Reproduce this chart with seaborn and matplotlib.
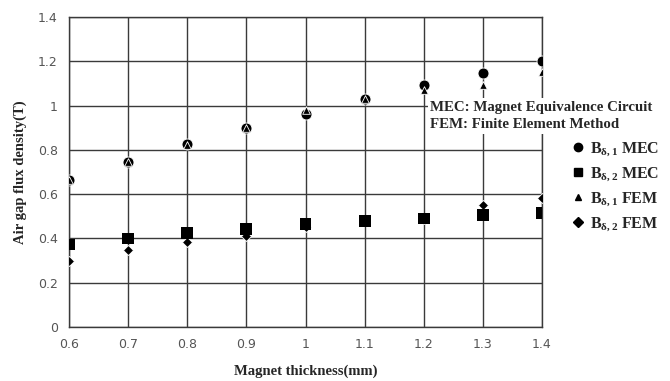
import pandas as pd
import seaborn as sns
import matplotlib.pyplot as plt
from matplotlib.lines import Line2D

# data
thickness = [0.6, 0.7, 0.8, 0.9, 1.0, 1.1, 1.2, 1.3, 1.4]
b1_mec = [0.664, 0.746, 0.826, 0.900, 0.962, 1.030, 1.093, 1.148, 1.200]
b2_mec = [0.373, 0.400, 0.423, 0.443, 0.464, 0.480, 0.490, 0.506, 0.516]
b1_fem = [0.664, 0.744, 0.822, 0.898, 0.980, 1.030, 1.072, 1.093, 1.153]
b2_fem = [0.298, 0.348, 0.385, 0.410, 0.453, 0.480, 0.490, 0.551, 0.581]

labels = [r'$\mathbf{B_{\delta,1}}$ MEC', r'$\mathbf{B_{\delta,2}}$ MEC',
          r'$\mathbf{B_{\delta,1}}$ FEM', r'$\mathbf{B_{\delta,2}}$ FEM']
series = [b1_mec, b2_mec, b1_fem, b2_fem]
markers = ['o', 's', '^', 'D']
sizes = [62, 72, 30, 26]
edges = ['white', 'none', 'white', 'white']
draw_order = [3, 1, 0, 2]  # diamonds, squares, circles, triangles on top

df = pd.concat([pd.DataFrame({'x': thickness, 'y': v, 'series': lab})
                for lab, v in zip(labels, series)], ignore_index=True)

sns.set_style('white')
plt.rcParams['font.family'] = ['DejaVu Sans']
plt.rcParams['mathtext.fontset'] = 'custom'
plt.rcParams['mathtext.rm'] = 'Liberation Serif'
plt.rcParams['mathtext.it'] = 'Liberation Serif:italic'
plt.rcParams['mathtext.bf'] = 'Liberation Serif:bold'

fig = plt.figure(figsize=(6.7, 3.81), dpi=100)
ax = fig.add_axes([69 / 670, 1 - 327 / 381, (542 - 69) / 670, (327 - 17) / 381])

for k, i in enumerate(draw_order):
    lab = labels[i]
    sns.scatterplot(data=df[df.series == lab], x='x', y='y', marker=markers[i], s=sizes[i],
                    color='black', edgecolor=edges[i], linewidth=0.6,
                    ax=ax, legend=False, zorder=3 + k)

ax.set_xlim(0.6, 1.4)
ax.set_ylim(0, 1.4)
ax.set_xticks(thickness)
ax.set_xticklabels(['0.6', '0.7', '0.8', '0.9', '1', '1.1', '1.2', '1.3', '1.4'])
ax.set_yticks([0, 0.2, 0.4, 0.6, 0.8, 1.0, 1.2, 1.4])
ax.set_yticklabels(['0', '0.2', '0.4', '0.6', '0.8', '1', '1.2', '1.4'])
ax.grid(True, color='#3a3a3a', linewidth=1.0)
ax.set_axisbelow(True)
for sp in ax.spines.values():
    sp.set_color('#3a3a3a')
    sp.set_linewidth(1.0)
ax.tick_params(axis='both', length=0, labelsize=9, colors='#555555', pad=8)

serif = ['Liberation Serif', 'DejaVu Serif']
ax.set_xlabel('Magnet thickness(mm)', family=serif, fontweight='bold', fontsize=10.5, labelpad=10)
ax.set_ylabel('Air gap flux density(T)', family=serif, fontweight='bold', fontsize=10.5, labelpad=8)

fig.text(430 / 670, 1 - 116 / 381,
         'MEC: Magnet Equivalence Circuit\nFEM: Finite Element Method',
         family=serif, fontweight='bold', fontsize=10.7, va='center', ha='left',
         linespacing=1.5, zorder=5,
         bbox=dict(facecolor='white', edgecolor='none', pad=1.5))

handles = [Line2D([], [], marker=m, color='black', linestyle='none',
                  markersize=ms) for m, ms in zip(markers, [6, 6, 4, 5])]
fig.legend(handles, labels, loc='upper left', bbox_to_anchor=(556 / 670, 1 - 126 / 381),
           frameon=False, prop={'family': serif, 'weight': 'bold', 'size': 11.5},
           handletextpad=0.2, handlelength=1.0, labelspacing=0.45)

fig.savefig('out.png', dpi=100)
